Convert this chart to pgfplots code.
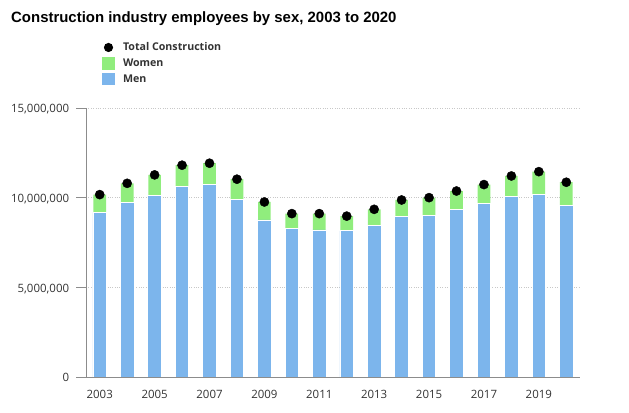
\documentclass[border=0pt]{standalone}
\usepackage{pgfplots}
\pgfplotsset{compat=1.18}
\usepackage{pgfplotstable}
\usepackage{fontspec}
\setmainfont{Open Sans}
\newfontfamily\titlefont{Liberation Sans}
\definecolor{mblue}{HTML}{7CB5EC}
\definecolor{wgreen}{HTML}{90ED7D}
\definecolor{axgray}{HTML}{8C8C8C}
\definecolor{gridgray}{HTML}{C8C8C8}
\definecolor{txt}{HTML}{333333}

\pgfplotstableread{
year men women total
2003 9160000 1010000 10170000
2004 9720000 1080000 10800000
2005 10130000 1140000 11270000
2006 10610000 1200000 11810000
2007 10730000 1190000 11920000
2008 9910000 1120000 11030000
2009 8760000 1000000 9760000
2010 8270000 840000 9110000
2011 8200000 910000 9110000
2012 8150000 820000 8970000
2013 8460000 890000 9350000
2014 8940000 930000 9870000
2015 9000000 1000000 10000000
2016 9350000 1020000 10370000
2017 9700000 1030000 10730000
2018 10080000 1130000 11210000
2019 10170000 1280000 11450000
2020 9590000 1270000 10860000
}\datatable

\begin{document}
\begin{tikzpicture}
\path[use as bounding box] (0,0) rectangle (629bp,413bp);
\node[anchor=base west, inner sep=0pt, text=black, font=\titlefont\bfseries\fontsize{15}{17}\selectfont] at (11bp,390bp) {Construction industry employees by sex, 2003 to 2020};
\begin{axis}[
  at={(86bp,36bp)}, anchor=south west,
  scale only axis, width=494bp, height=269bp,
  xmin=2002.5, xmax=2020.5, ymin=0, ymax=15000000,
  axis x line*=bottom, axis y line*=left,
  axis line style={axgray, line width=0.9bp},
  xtick={2003,2005,...,2019},
  xticklabels={2003,2005,2007,2009,2011,2013,2015,2017,2019},
  ytick={0,5000000,10000000,15000000},
  yticklabels={0,{5,000,000},{10,000,000},{15,000,000}},
  scaled y ticks=false,
  tick align=outside, major tick length=10bp,
  xtick style={draw=none},
  ytick style={axgray, line width=0.8bp},
  ymajorgrids, grid style={gridgray, dotted, line width=0.9bp},
  ticklabel style={font=\fontsize{11.5}{13}\selectfont, text=txt, inner sep=0pt},
  xticklabel style={anchor=base, yshift=-11.3bp},
  yticklabel style={anchor=base east, xshift=-6.7bp, yshift=-4.7bp},
  legend style={at={(axis description cs:0.0324,1.2543)}, anchor=north west, draw=none, fill=none, inner sep=0pt, outer sep=0pt, row sep=0pt, column sep=8bp, font=\bfseries\fontsize{10.7}{12}\selectfont, text=txt, nodes={inner sep=0pt}},
  legend cell align=left,
]
\addlegendimage{legend image code/.code={\path[draw=none,fill=none] (0bp,-7.9bp) rectangle (13bp,7.9bp); \fill[black,draw=none] (6.5bp,0bp) circle (4.6bp);}}
\addlegendimage{legend image code/.code={\path[draw=none,fill=none] (0bp,-7.9bp) rectangle (13bp,7.9bp); \fill[wgreen,draw=none] (0bp,-6.4bp) rectangle (13bp,6.4bp);}}
\addlegendimage{legend image code/.code={\path[draw=none,fill=none] (0bp,-7.9bp) rectangle (13bp,7.9bp); \fill[mblue,draw=none] (0bp,-6.4bp) rectangle (13bp,6.4bp);}}
\legend{Total Construction, Women, Men}

\addplot[ybar, bar width=12.7bp, bar shift=0bp, fill=wgreen, draw=none, forget plot] table[x=year, y=total] {\datatable};
\addplot[ybar, bar width=13.5bp, bar shift=0bp, fill=mblue, draw=white, line width=0.8bp, forget plot] table[x=year, y=men] {\datatable};
\addplot[only marks, mark=*, mark size=4.6bp, black, forget plot] table[x=year, y=total] {\datatable};
\end{axis}
\end{tikzpicture}
\end{document}
